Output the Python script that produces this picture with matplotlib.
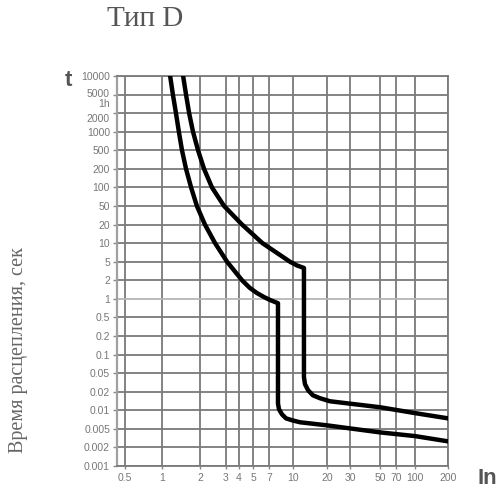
import numpy as np
import matplotlib.pyplot as plt
from matplotlib.transforms import ScaledTranslation

# сетка времени (с), шаг 1-2-5, на графике строки равномерные
t_ticks = [0.001, 0.002, 0.005, 0.01, 0.02, 0.05, 0.1, 0.2, 0.5, 1, 2, 5,
           10, 20, 50, 100, 200, 500, 1000, 2000, 5000, 10000]
t_labels = ['0.001', '0.002', '0.005', '0.01', '0.02', '0.05', '0.1', '0.2', '0.5',
            '1', '2', '5', '10', '20', '50', '100', '200', '500', '1000', '2000',
            '5000', '10000']

# кратность тока I/In
i_ticks = [0.5, 1, 2, 3, 4, 5, 7, 10, 20, 30, 50, 70, 100, 200]
i_labels = ['0.5', '1', '2', '3', '4', '5', '7', '10', '20', '30', '50', '70', '100', '200']

# нижняя граница (ближе к оси)
lower_i = [1.16, 1.22, 1.29, 1.36, 1.44, 1.55, 1.70, 1.89, 2.16, 2.53, 3.07, 4.2,
           4.76, 5.44, 6.3, 7.1, 8.0, 8.0, 8.12, 8.49, 9.01, 9.85, 11.5, 20, 50, 100, 200]
lower_t = [10000, 5000, 2000, 1000, 500, 200, 100, 50, 20, 10, 5, 2,
           1.5, 1.24, 1.07, 0.96, 0.85, 0.0129, 0.0104, 0.0086, 0.0074, 0.0069,
           0.0064, 0.0057, 0.0042, 0.0035, 0.0027]

# верхняя граница
upper_i = [1.47, 1.55, 1.64, 1.76, 1.93, 2.13, 2.41, 2.91, 4.2, 6.1, 9.56, 10.85,
           12.5, 12.5, 12.77, 13.6, 15.0, 17.3, 21.1, 50, 100, 200]
upper_t = [10000, 5000, 2000, 1000, 500, 200, 100, 50, 20, 10, 5, 4.16,
           3.67, 0.041, 0.029, 0.0215, 0.0175, 0.0157, 0.014, 0.0112, 0.009, 0.0074]

# ось X нарисована от руки - почти логарифмическая; опорные точки в пикселях
x_anchor = [0.43, 0.5, 1, 2, 3, 4, 5, 7, 10, 20, 30, 50, 70, 100, 200]
x_pos = [-8, 0, 37, 75, 101, 114, 128, 144, 168, 202, 225, 255, 271, 290, 323]


def make_scale(vals, pos):
    lv = np.log10(vals)
    pos = np.asarray(pos, float)
    k0 = (pos[1] - pos[0]) / (lv[1] - lv[0])
    k1 = (pos[-1] - pos[-2]) / (lv[-1] - lv[-2])

    def fwd(v):
        v = np.log10(np.clip(np.asarray(v, float), 1e-12, None))
        out = np.interp(v, lv, pos)
        out = np.where(v < lv[0], pos[0] + (v - lv[0]) * k0, out)
        out = np.where(v > lv[-1], pos[-1] + (v - lv[-1]) * k1, out)
        return out

    def inv(p):
        p = np.asarray(p, float)
        out = np.interp(p, pos, lv)
        out = np.where(p < pos[0], lv[0] + (p - pos[0]) / k0, out)
        out = np.where(p > pos[-1], lv[-1] + (p - pos[-1]) / k1, out)
        return 10 ** out

    return fwd, inv


fig = plt.figure(figsize=(4.99, 4.92), dpi=100)
ax = fig.add_axes([117 / 499, 26 / 492, 331 / 499, 390 / 492])

ax.set_xscale('function', functions=make_scale(x_anchor, x_pos))
ax.set_yscale('function', functions=make_scale(t_ticks, range(len(t_ticks))))
ax.set_xlim(0.43, 200)
ax.set_ylim(0.001, 10000)

ax.set_xticks(i_ticks, i_labels)
ax.set_yticks(t_ticks, t_labels)
ax.set_xticks([], minor=True)
ax.set_yticks([3600], ['1h'], minor=True)

ax.tick_params(axis='both', which='major', labelsize=7.5, labelcolor='#777777', color='#888888')
ax.tick_params(axis='y', which='major', length=3, width=1, pad=2)
ax.tick_params(axis='x', which='major', length=2, width=1, pad=3)
ax.tick_params(axis='y', which='minor', length=0, labelsize=7.5, labelcolor='#777777', pad=5)

for lab in ax.get_xticklabels() + ax.get_yticklabels(minor=True) + ax.get_yticklabels():
    lab.set_family('Liberation Sans')

# подписи 5000 / 1h / 2000 стоят тесно - слегка раздвигаем, как в оригинале
ticks = ax.yaxis.get_major_ticks()
shifts = [(ticks[20].label1, 2), (ticks[19].label1, -5),
          (ax.yaxis.get_minor_ticks()[0].label1, -2)]
for lab, dy in shifts:
    lab.set_transform(lab.get_transform() + ScaledTranslation(0, dy / 100, fig.dpi_scale_trans))

ax.grid(True, which='major', color='#7a7a7a', lw=1.3)
ax.yaxis.get_gridlines()[9].set_color('#b5b5b5')
for s in ['top', 'right', 'bottom']:
    ax.spines[s].set_color('#7a7a7a')
    ax.spines[s].set_linewidth(1.3)
ax.spines['left'].set_color('#a0a0a0')
ax.spines['left'].set_linewidth(1.6)

ax.plot(lower_i, lower_t, color='black', lw=3.2, solid_joinstyle='round', zorder=3)
ax.plot(upper_i, upper_t, color='black', lw=3.2, solid_joinstyle='round', zorder=3)

fig.text(145 / 499, 1 - 19 / 492, 'Тип D', fontsize=21, family='Liberation Serif',
         color='#555555', ha='center', va='center')
fig.text(19 / 499, 1 - 350 / 492, 'Время расцепления, сек', fontsize=14.5,
         family='Liberation Serif', color='#666666', rotation=90, ha='center', va='center')
fig.text(68 / 499, 1 - 80 / 492, 't', fontsize=16, fontweight='bold',
         family='Liberation Sans', color='#555555', ha='center', va='center')
fig.text(487 / 499, 1 - 478 / 492, 'In', fontsize=16, fontweight='bold',
         family='Liberation Sans', color='#555555', ha='center', va='center')

fig.savefig('out.png', dpi=100)
